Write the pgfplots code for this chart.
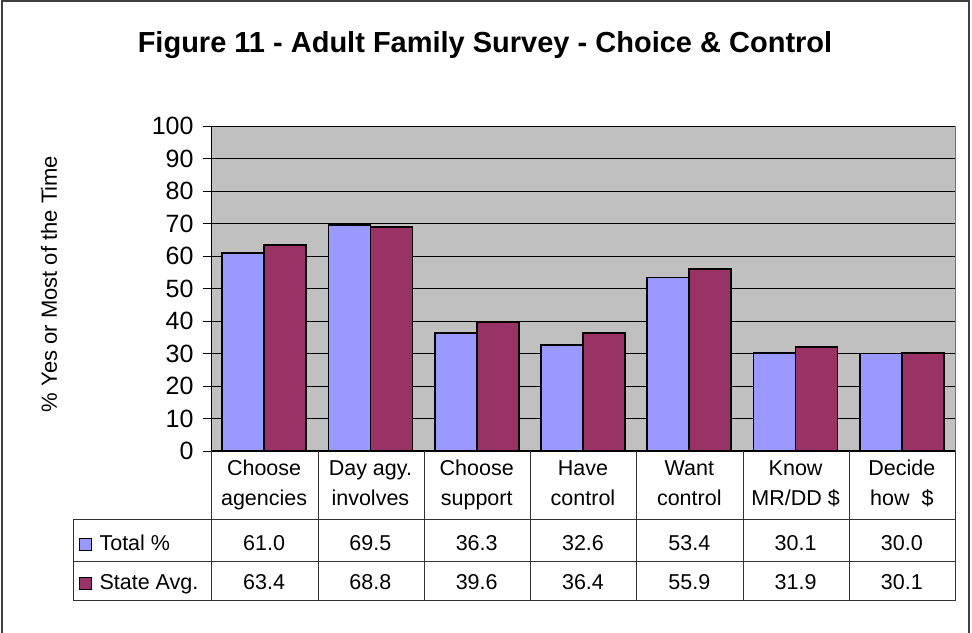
\documentclass[border=0pt]{standalone}
\usepackage{pgfplots}
\pgfplotsset{compat=1.18}
\usepackage{fontspec}
\setmainfont{Liberation Sans}
\definecolor{barblue}{HTML}{9999FF}
\definecolor{barred}{HTML}{993366}
\definecolor{plotbg}{HTML}{C0C0C0}
\begin{document}
\begin{tikzpicture}[x=1pt,y=1pt]
\useasboundingbox (0,0) rectangle (972,632);
\clip (0,0) rectangle (972,632);
\draw[line width=2pt, draw=black!75] (2,-5) -- (2,631) -- (969,631) -- (969,-5);
\node[font=\bfseries\fontsize{29}{33}\selectfont] at (485,587) {Figure 11 - Adult Family Survey - Choice \& Control};
\node[rotate=90, font=\fontsize{22}{26}\selectfont] at (49,348) {\% Yes or Most of the Time};
\begin{axis}[at={(211pt,181pt)}, anchor=south west, scale only axis,
  width=744pt, height=325pt,
  xmin=-0.5, xmax=6.5, ymin=0, ymax=100,
  ytick={0,10,...,100}, xtick=\empty,
  ybar=0pt, bar width=42pt,
  axis background/.style={fill=plotbg},
  ymajorgrids, grid style={black, line width=0.8pt},
  axis x line*=bottom, axis y line*=left,
  axis line style={black, line width=1pt, -},
  tick align=outside, major tick length=8pt,
  tick style={black, line width=0.8pt},
  yticklabel style={font=\fontsize{25}{28}\selectfont, xshift=-6pt},
  /pgf/number format/assume math mode=true,
  clip=false]
\addplot[fill=barblue, draw=black, line width=1.8pt] coordinates {(0,61.0) (1,69.5) (2,36.3) (3,32.6) (4,53.4) (5,30.1) (6,30.0)};
\addplot[fill=barred, draw=black, line width=1.8pt] coordinates {(0,63.4) (1,68.8) (2,39.6) (3,36.4) (4,55.9) (5,31.9) (6,30.1)};
\end{axis}
\draw[line width=1pt, draw=black!55] (955,181) -- (955,506);
% data table
\begin{scope}[line width=1pt, draw=black!80]
\foreach \xx in {211,318,424,530,636,743,849,955} \draw (\xx,181) -- (\xx,31);
\draw (73,112) -- (955,112);
\draw (73,70) -- (955,70);
\draw (73,31) -- (955,31);
\draw (73,112) -- (73,31);
\end{scope}
\begin{scope}[font=\fontsize{21.5}{25}\selectfont, every node/.style={anchor=base}]
\foreach \cx/\la/\lb/\va/\vb in {264.1/Choose/agencies/61.0/63.4, 370.4/Day agy./involves/69.5/68.8, 476.7/Choose/support/36.3/39.6, 583.0/Have/control/32.6/36.4, 689.3/Want/control/53.4/55.9, 795.6/Know/{MR/DD \$}/30.1/31.9, 901.9/Decide/how\ \ \$/30.0/30.1}{
  \node at (\cx,156) {\la};
  \node at (\cx,126) {\lb};
  \node at (\cx,81) {\va};
  \node at (\cx,42) {\vb};
}
\draw[fill=barblue, line width=1pt] (79,81) rectangle (91,93);
\draw[fill=barred, line width=1pt] (79,42) rectangle (91,54);
\node[anchor=base west] at (96,81) {Total \%};
\node[anchor=base west] at (96,42) {State Avg.};
\end{scope}
\end{tikzpicture}
\end{document}
